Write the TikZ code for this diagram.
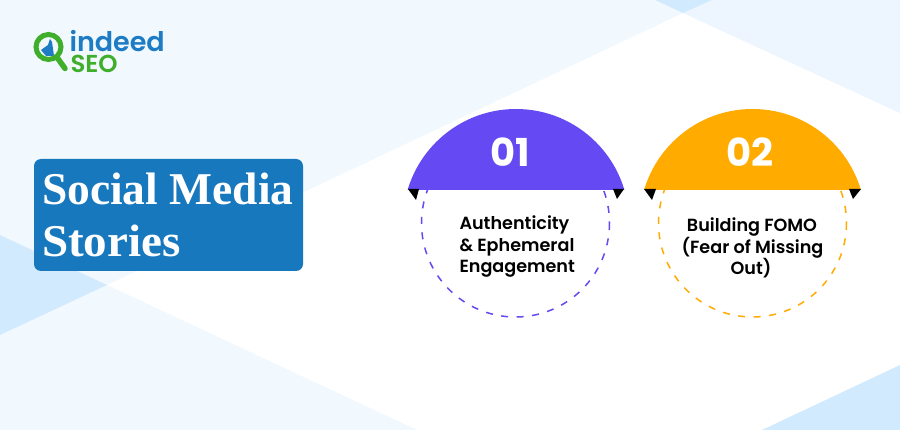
\documentclass[tikz,border=0pt]{standalone}
\usepackage{fontspec}
\setmainfont{Poppins}
\newfontfamily\serifbold{Liberation Serif}[BoldFont=Liberation Serif Bold]
\newfontfamily\popsemi{Poppins SemiBold}
\definecolor{bgblue}{HTML}{EDF6FE}
\definecolor{bglight}{HTML}{F1F9FF}
\definecolor{midblue}{HTML}{D2EAFD}
\definecolor{boxblue}{HTML}{1878BE}
\definecolor{violet1}{HTML}{6549F2}
\definecolor{amber1}{HTML}{FFAB00}
\definecolor{logogreen}{HTML}{3FAE2A}
\definecolor{logoblue}{HTML}{1D7CC4}
\tikzset{
  every node/.style={inner sep=0pt,outer sep=0pt},
  numtext/.style={text=white,font=\fontsize{38.5}{38.5}\selectfont\bfseries},
  bodyleft/.style={text=black,anchor=base west,font=\fontsize{17.6}{17.6}\selectfont\popsemi},
  bodymid/.style={text=black,anchor=base,font=\fontsize{17.6}{17.6}\selectfont\popsemi},
  titletext/.style={text=white,anchor=base west,font=\fontsize{45.5}{45.5}\selectfont\serifbold\bfseries},
  dashring/.style={line width=1.5pt,dash pattern=on 7pt off 8.5pt},
  notch/.style={fill=black},
}
\begin{document}
\begin{tikzpicture}[x=1pt,y=-1pt]
\useasboundingbox (0,0) rectangle (900,430);
% background
\fill[white] (0,0) rectangle (900,430);
\fill[bglight] (0,0) -- (655,0) -- (683,13) -- (107,285) -- (0,235) -- cycle;
\fill[bgblue] (712,0) -- (900,0) -- (900,113) -- (683,13) -- cycle;
\fill[bglight] (107,285) -- (417,430) -- (0,430) -- (0,335) -- cycle;
\fill[midblue] (0,235) -- (107,285) -- (0,335) -- cycle;
\fill[midblue] (655,0) -- (712,0) -- (683,13) -- cycle;
\fill[midblue] (900,365) -- (900,430) -- (762,430) -- cycle;
% logo
\fill[logoblue] (41,50) -- (48,45) -- (50,39) -- (52,42) -- (54,56) -- (46,56) -- cycle;
\draw[logogreen,line width=5pt] (48.5,47) circle (12.5);
\draw[logogreen,line width=5.5pt,line cap=round] (57.5,58) -- (65,68.5);
\node[anchor=base west,text=logoblue,font=\fontsize{27}{27}\selectfont\popsemi] (logoa) at (69.5,52) {indeed};
\node[anchor=base west,text=logogreen,font=\fontsize{24.5}{24.5}\selectfont\popsemi] (logob) at (70.5,72.5) {SEO};
% title box
\node[fill=boxblue,rounded corners=7pt,minimum width=269pt,minimum height=112pt,anchor=north west] (box) at (34,159) {};
\node[titletext] (t1) at (42,204.5) {Social Media};
\node[titletext,xscale=1.035,transform shape] (t2) at (42,257) {Stories};
% item 1
\draw[violet1,dashring] (515.5,223) circle (94);
\begin{scope}
\clip (400,100) rectangle (630,189.5);
\fill[violet1] (516,222) circle (113);
\end{scope}
\fill[notch] (408,189) -- (419,189) -- (416,200) -- cycle;
\fill[notch] (613,189) -- (624,189) -- (617,199) -- cycle;
\node[numtext] (n1) at (510.5,152.5) {01};
\node[bodyleft] (a1) at (459.5,229.5) {Authenticity};
\node[bodyleft] (a2) at (459.5,251.5) {\& Ephemeral};
\node[bodyleft] (a3) at (459.5,272.5) {Engagement};
% item 2
\draw[amber1,dashring] (752.5,223) circle (94);
\begin{scope}
\clip (636,100) rectangle (868,189.5);
\fill[amber1] (752.5,222) circle (113);
\end{scope}
\fill[notch] (644,189) -- (656,189) -- (652,200) -- cycle;
\fill[notch] (849,189) -- (861,189) -- (853,199) -- cycle;
\node[numtext] (n2) at (750,152.5) {02};
\node[bodymid] (b1) at (752,232) {Building FOMO};
\node[bodymid] (b2) at (752.5,254) {(Fear of Missing};
\node[bodymid] (b3) at (751,275) {Out)};
\end{tikzpicture}
\end{document}
